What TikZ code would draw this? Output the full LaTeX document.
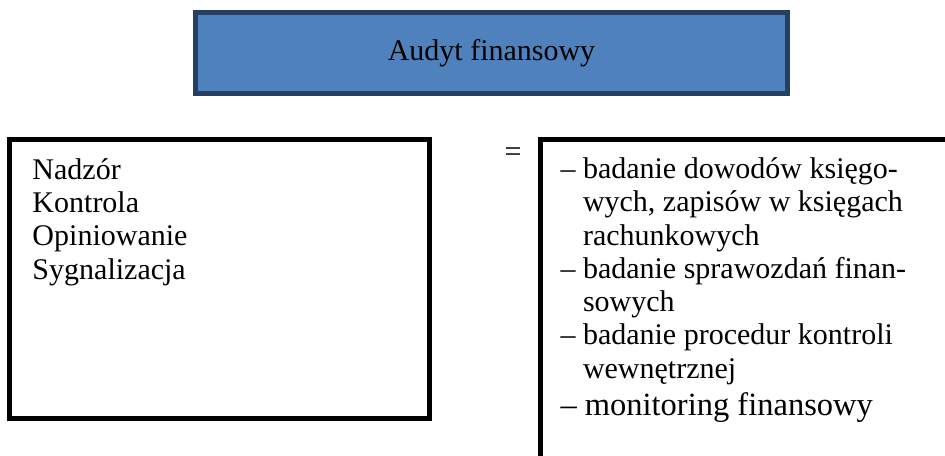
\documentclass[tikz,border=0pt]{standalone}
\usepackage{fontspec}
\setmainfont{Liberation Serif}
\definecolor{boxblue}{HTML}{4F81BD}
\definecolor{boxedge}{HTML}{243F60}
\newcommand{\wciecie}{\hphantom{– }}
\begin{document}
\begin{tikzpicture}[x=0.4pt,y=-0.4pt,
  tekst/.style={font=\fontsize{12}{13.3}\selectfont,inner sep=0pt,align=left},
  ramka/.style={draw,line width=2pt,inner sep=0pt}]
\clip(0,0)rectangle(945,455);
%
\node[ramka,draw=boxedge,fill=boxblue,minimum width=236.8pt,minimum height=32.4pt,font=\fontsize{12}{14}\selectfont](audyt)at(491.5,53){Audyt finansowy};
\node[ramka,minimum width=168pt,minimum height=111.6pt](lewa)at(219.5,278.5){};
\node[ramka,minimum width=183.8pt,minimum height=144.4pt](prawa)at(770.25,319.5){};
%
% base = baseline of the last line
\node[tekst,anchor=base west](funkcje)at(32,279){Nadzór\\Kontrola\\Opiniowanie\\Sygnalizacja};
\node[tekst](rowna)at(513,155){=};
\node[tekst,anchor=base west](zakres)at(560,415){– badanie dowodów księgo-\\
\wciecie wych, zapisów w księgach\\
\wciecie rachunkowych\\
– badanie sprawozdań finan-\\
\wciecie sowych\\
– badanie procedur kontroli\\
\wciecie wewnętrznej\\[1.5pt]
{\fontsize{13}{14}\selectfont – monitoring finansowy}};
\end{tikzpicture}
\end{document}
